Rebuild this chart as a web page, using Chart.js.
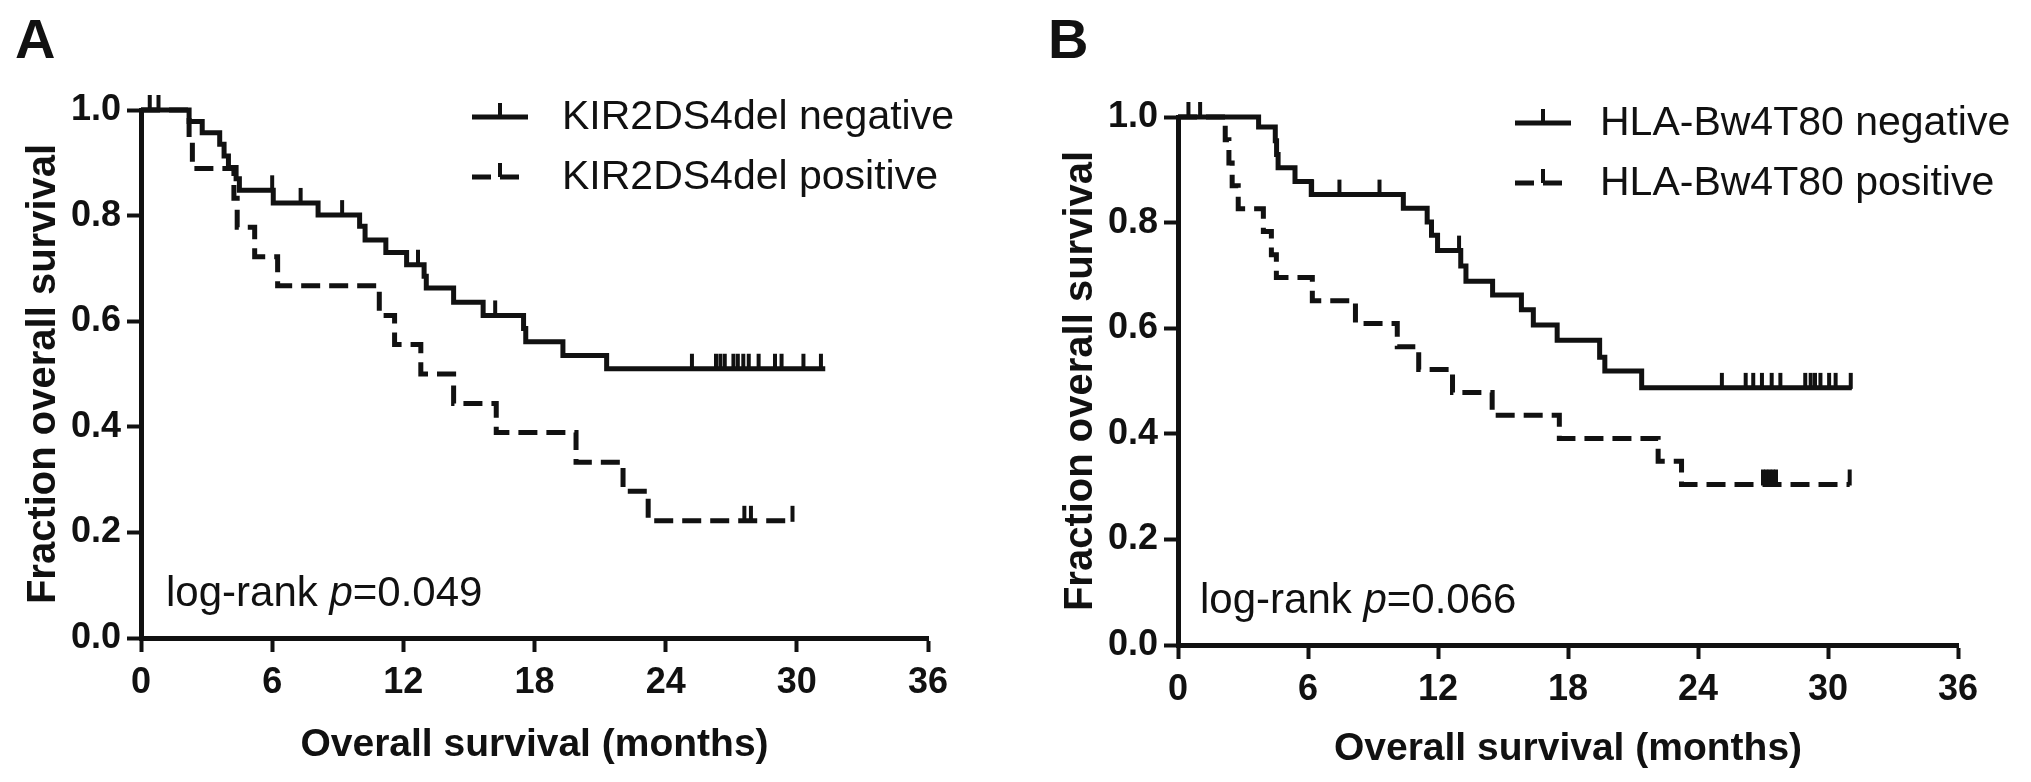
<!DOCTYPE html>
<html><head><meta charset="utf-8">
<script src="https://cdn.jsdelivr.net/npm/chart.js@4"></script>
<style>
html,body{margin:0;padding:0;background:#fff;}
#wrap{position:relative;width:2031px;height:782px;overflow:hidden;background:#fff}
.pane{position:absolute;top:0;height:782px}
canvas{display:block}
</style></head><body>
<div id="wrap">
<div class="pane" style="left:0;width:1015px"><canvas id="cA"></canvas></div>
<div class="pane" style="left:1015px;width:1016px"><canvas id="cB"></canvas></div>
</div>
<script>
// ---------- data ----------
const xTicks = [0, 6, 12, 18, 24, 30, 36];
const yTicks = [0, 0.2, 0.4, 0.6, 0.8, 1.0];
const xTitle = 'Overall survival (months)';
const yTitle = 'Fraction overall survival';

// Panel A
const aLetter = 'A';
const aNegLabel = 'KIR2DS4del negative';
const aNegTime = [0, 2.2, 2.8, 3.6, 3.8, 4.0, 4.35, 4.5, 6.05, 8.1, 10.0, 10.25, 11.2, 12.15, 12.95, 13.05, 14.3, 15.65, 17.5, 17.6, 19.3, 21.3, 31.3];
const aNegSurv = [1, 0.978, 0.957, 0.935, 0.913, 0.891, 0.870, 0.848, 0.824, 0.801, 0.780, 0.754, 0.730, 0.707, 0.685, 0.663, 0.636, 0.611, 0.586, 0.561, 0.535, 0.510, 0.510];
const aNegCensor = [0.4, 0.8, 6.0, 7.3, 9.2, 12.67, 16.2, 25.2, 26.3, 26.5, 26.7, 27.1, 27.3, 27.55, 27.8, 28.25, 29.0, 29.3, 30.3, 31.1];
const aPosLabel = 'KIR2DS4del positive';
const aPosTime = [0, 2.2, 2.35, 4.25, 4.4, 5.2, 6.25, 10.9, 11.6, 12.8, 14.3, 16.25, 19.9, 22.05, 23.2, 29.8];
const aPosSurv = [1, 0.944, 0.889, 0.833, 0.778, 0.722, 0.667, 0.611, 0.556, 0.500, 0.444, 0.389, 0.333, 0.278, 0.222, 0.222];
const aPosCensor = [27.6, 27.9, 29.8];
const aPval = '0.049';

// Panel B
const bLetter = 'B';
const bNegLabel = 'HLA-Bw4T80 negative';
const bNegTime = [0, 3.72, 4.49, 4.55, 4.62, 5.4, 6.15, 10.4, 11.5, 11.7, 11.98, 13.05, 13.29, 14.52, 15.85, 16.4, 17.5, 19.46, 19.7, 21.4, 31.1];
const bNegSurv = [1, 0.981, 0.955, 0.929, 0.904, 0.878, 0.853, 0.827, 0.801, 0.776, 0.747, 0.718, 0.689, 0.663, 0.635, 0.606, 0.577, 0.545, 0.519, 0.487, 0.487];
const bNegCensor = [0.48, 1.02, 6.19, 7.45, 9.3, 12.97, 25.1, 26.2, 26.55, 26.95, 27.4, 27.8, 28.95, 29.2, 29.4, 29.65, 30.05, 30.35, 31.05];
const bPosLabel = 'HLA-Bw4T80 positive';
const bPosTime = [0, 2.18, 2.35, 2.5, 2.78, 3.94, 4.31, 4.54, 6.2, 8.19, 10.12, 11.11, 12.67, 14.5, 17.6, 22.16, 23.24, 31.0];
const bPosSurv = [1, 0.957, 0.913, 0.870, 0.826, 0.783, 0.739, 0.696, 0.652, 0.609, 0.565, 0.522, 0.478, 0.435, 0.391, 0.348, 0.304, 0.304];
const bPosCensor = [27.0, 27.15, 27.3, 27.45, 27.6, 31.0];
const bPval = '0.066';

// ---------- styling / layout ----------
const FONT = '"Liberation Sans", Arial, Helvetica, sans-serif';
const INK = '#111111';
const LW = 5;
const DASH = [19, 9];

function survAt(times, surv, t) {
  let v = surv[0];
  for (let i = 0; i < times.length; i++) { if (times[i] <= t) v = surv[i]; }
  return v;
}
function tickImage() {
  const c = document.createElement('canvas');
  c.width = 6; c.height = 32;
  const g = c.getContext('2d');
  g.fillStyle = INK;
  g.fillRect(1, 1, 4, 16);
  return c;
}
const TICK = tickImage();

function kmDataset(label, times, surv, dash) {
  return {
    type: 'line', label,
    data: times.map((t, i) => ({ x: t, y: surv[i] })),
    stepped: 'before', borderColor: INK, borderWidth: LW, borderDash: dash,
    borderJoinStyle: 'miter', borderCapStyle: 'butt',
    pointRadius: 0, fill: false, clip: false, tension: 0
  };
}
function censorDataset(label, times, surv, cens) {
  return {
    type: 'scatter', label: label + ' (censored)',
    data: cens.map(t => ({ x: t, y: survAt(times, surv, t) })),
    pointStyle: TICK, pointRadius: 8, clip: false, showLine: false
  };
}

const kmDecor = {
  id: 'kmDecor',
  afterDraw(chart, args, o) {
    const ctx = chart.ctx;
    ctx.save();
    ctx.fillStyle = INK; ctx.strokeStyle = INK;
    // panel letter
    ctx.font = `bold ${o.letterSize}px ${FONT}`;
    ctx.textAlign = 'left'; ctx.textBaseline = 'alphabetic';
    ctx.fillText(o.letter, o.letterX, o.letterY);
    // legend
    const ds = chart.data.datasets;
    [0, 1].forEach((di, i) => {
      const y = o.legendY[i];
      ctx.lineWidth = LW;
      ctx.setLineDash(ds[di].borderDash || []);
      ctx.beginPath(); ctx.moveTo(o.legendX, y); ctx.lineTo(o.legendX + o.symW, y); ctx.stroke();
      ctx.setLineDash([]);
      ctx.fillRect(o.legendX + o.symW / 2 - 2, y - 14, 4, 14);
      ctx.font = `${o.legendSize}px ${FONT}`;
      ctx.textBaseline = 'middle';
      ctx.fillText(ds[di].label, o.textX, y + 1);
    });
    // annotation
    ctx.textBaseline = 'alphabetic';
    let x = o.annX;
    const parts = [['log-rank ', ''], ['p', 'italic '], ['=' + o.pval, '']];
    parts.forEach(([s, st]) => {
      ctx.font = `${st}${o.annSize}px ${FONT}`;
      ctx.fillText(s, x, o.annY);
      x += ctx.measureText(s).width;
    });
    ctx.restore();
  }
};

function makeChart(id, L, d) {
  const cv = document.getElementById(id);
  cv.width = L.w; cv.height = L.h;
  return new Chart(cv, {
    type: 'line',
    data: { datasets: [
      kmDataset(d.negLabel, d.negTime, d.negSurv, []),
      kmDataset(d.posLabel, d.posTime, d.posSurv, DASH),
      censorDataset(d.negLabel, d.negTime, d.negSurv, d.negCensor),
      censorDataset(d.posLabel, d.posTime, d.posSurv, d.posCensor)
    ]},
    plugins: [kmDecor],
    options: {
      responsive: false, animation: false, devicePixelRatio: 1, events: [],
      layout: { padding: { left: 0, top: L.top, right: L.w - L.right, bottom: 0 } },
      plugins: {
        legend: { display: false }, tooltip: { enabled: false },
        kmDecor: {
          letter: d.letter, letterX: L.letterX, letterY: L.letterY, letterSize: 56,
          legendX: L.legendX, legendY: L.legendY, symW: 56, textX: L.textX, legendSize: 41,
          annX: L.annX, annY: L.annY, annSize: 42, pval: d.pval
        }
      },
      scales: {
        x: {
          type: 'linear', min: 0, max: 36,
          afterBuildTicks: s => { s.ticks = xTicks.map(v => ({ value: v })); },
          afterFit: s => { s.height = L.h - L.bottom; },
          ticks: { color: INK, font: { family: FONT, size: 36, weight: 'bold' }, padding: 9, maxRotation: 0, autoSkip: false },
          grid: { display: true, drawOnChartArea: false, drawTicks: true, tickLength: 14, tickWidth: 4, tickColor: INK, color: INK },
          border: { display: true, width: 5, color: INK },
          title: { display: true, text: xTitle, color: INK, font: { family: FONT, size: 39, weight: 'bold', lineHeight: 1.2 }, padding: { top: 0, bottom: L.xTitlePad } }
        },
        y: {
          type: 'linear', min: 0, max: 1,
          afterBuildTicks: s => { s.ticks = yTicks.map(v => ({ value: v })); },
          afterFit: s => { s.width = L.left; },
          ticks: { color: INK, font: { family: FONT, size: 36, weight: 'bold' }, padding: 6, callback: v => Number(v).toFixed(1) },
          grid: { display: true, drawOnChartArea: false, drawTicks: true, tickLength: 14, tickWidth: 4, tickColor: INK, color: INK },
          border: { display: true, width: 5, color: INK },
          title: { display: true, text: yTitle, color: INK, font: { family: FONT, size: 40, weight: 'bold', lineHeight: 1.2 }, padding: { top: L.yTitlePad, bottom: 0 } }
        }
      }
    }
  });
}

const layoutA = { w: 1015, h: 782, left: 141, right: 928, top: 110, bottom: 638,
  xTitlePad: 13, yTitlePad: 20, letterX: 15, letterY: 58,
  legendX: 472, legendY: [117, 177], textX: 562, annX: 166, annY: 606 };
const layoutB = { w: 1016, h: 782, left: 163, right: 943, top: 117, bottom: 645,
  xTitlePad: 9, yTitlePad: 42, letterX: 33, letterY: 58,
  legendX: 500, legendY: [123, 183], textX: 585, annX: 185, annY: 613 };

makeChart('cA', layoutA, { letter: aLetter, negLabel: aNegLabel, negTime: aNegTime, negSurv: aNegSurv, negCensor: aNegCensor,
  posLabel: aPosLabel, posTime: aPosTime, posSurv: aPosSurv, posCensor: aPosCensor, pval: aPval });
makeChart('cB', layoutB, { letter: bLetter, negLabel: bNegLabel, negTime: bNegTime, negSurv: bNegSurv, negCensor: bNegCensor,
  posLabel: bPosLabel, posTime: bPosTime, posSurv: bPosSurv, posCensor: bPosCensor, pval: bPval });
</script>
</body></html>
